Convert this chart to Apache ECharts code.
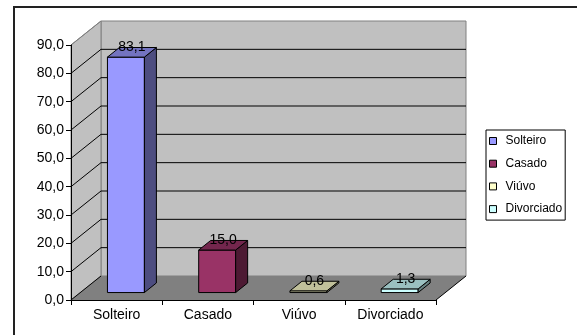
<!DOCTYPE html>
<html>
<head>
<meta charset="utf-8">
<script src="https://cdn.jsdelivr.net/npm/echarts@6/dist/echarts.min.js"></script>
<style>
  html, body { margin: 0; padding: 0; background: #ffffff; }
  #chart { width: 577px; height: 335px; }
</style>
</head>
<body>
<div id="chart"></div>
<script>
// Estado civil (%)
const categories = ['Solteiro', 'Casado', 'Viúvo', 'Divorciado'];
const values = [83.1, 15.0, 0.6, 1.3];
const yTicks = { min: 0, max: 90, step: 10 };

// Face colours of each box: front, top, side
const faceColors = [
  { front: '#9999ff', top: '#7373c0', side: '#4d4d80' },
  { front: '#993366', top: '#73264d', side: '#4d1a33' },
  { front: '#ffffcc', top: '#c0c09a', side: '#808066' },
  { front: '#ccffff', top: '#9ac0c0', side: '#668080' }
];

const FONT = '"Liberation Sans", Arial, sans-serif';
const AXIS_FONT = 14, LEGEND_FONT = 12;
// Perspective depth of the plot box (pixels)
const DX = 30, DY = -24;
// Depth placement of the boxes inside the plot (fraction of the depth)
const BAR_DEPTH_FRONT = 0.31, BAR_DEPTH = 0.40;
const BAR_WIDTH = 0.405;

const fmt = v => v.toFixed(1).replace('.', ',');

function renderWalls(params, api) {
  const band = api.size([1, 0])[0];
  const xL = api.coord([0, 0])[0] - band / 2;
  const xR = api.coord([categories.length - 1, 0])[0] + band / 2;
  const y0 = api.coord([0, yTicks.min])[1];
  const yT = api.coord([0, yTicks.max])[1];
  const kids = [];
  // back wall
  kids.push({ type: 'polygon', shape: { points: [[xL + DX, yT + DY], [xR + DX, yT + DY], [xR + DX, y0 + DY], [xL + DX, y0 + DY]] },
    style: { fill: '#c0c0c0', stroke: '#808080', lineWidth: 1 } });
  // side wall
  kids.push({ type: 'polygon', shape: { points: [[xL, y0], [xL, yT], [xL + DX, yT + DY], [xL + DX, y0 + DY]] },
    style: { fill: '#c0c0c0', stroke: '#808080', lineWidth: 1 } });
  // floor
  kids.push({ type: 'polygon', shape: { points: [[xL, y0], [xR, y0], [xR + DX, y0 + DY], [xL + DX, y0 + DY]] },
    style: { fill: '#808080' } });
  // gridlines on the back wall and the side wall
  for (let v = yTicks.min; v <= yTicks.max; v += yTicks.step) {
    const y = api.coord([0, v])[1];
    if (v > yTicks.min && v < yTicks.max) {
      kids.push({ type: 'line', shape: { x1: xL + DX, y1: y + DY, x2: xR + DX, y2: y + DY },
        style: { stroke: '#000', lineWidth: 1 } });
    }
    kids.push({ type: 'line', shape: { x1: xL, y1: y, x2: xL + DX, y2: y + DY },
      style: { stroke: v < yTicks.max ? '#000' : '#808080', lineWidth: 1 } });
  }
  // right edge of the floor
  kids.push({ type: 'line', shape: { x1: xR, y1: y0, x2: xR + DX, y2: y0 + DY },
    style: { stroke: '#000', lineWidth: 1 } });
  return { type: 'group', children: kids };
}

function makeBoxRenderer(idx) {
  return function (params, api) {
    const cat = api.value(0), val = api.value(1);
    const band = api.size([1, 0])[0];
    const c = api.coord([cat, 0]);
    const t = api.coord([cat, val]);
    const w = band * BAR_WIDTH;
    const ox = BAR_DEPTH_FRONT * DX, oy = BAR_DEPTH_FRONT * DY;
    const bx = BAR_DEPTH * DX, by = BAR_DEPTH * DY;
    const xl = c[0] - w / 2 + ox, xr = xl + w;
    const yb = c[1] + oy, yt = t[1] + oy;
    const col = faceColors[idx];
    const edge = { stroke: '#000', lineWidth: 1 };
    return {
      type: 'group',
      children: [
        { type: 'polygon', shape: { points: [[xl, yt], [xr, yt], [xr, yb], [xl, yb]] },
          style: Object.assign({ fill: col.front }, edge) },
        { type: 'polygon', shape: { points: [[xr, yt], [xr, yb], [xr + bx, yb + by], [xr + bx, yt + by]] },
          style: Object.assign({ fill: col.side }, edge) },
        { type: 'polygon', shape: { points: [[xl, yt], [xr, yt], [xr + bx, yt + by], [xl + bx, yt + by]] },
          style: Object.assign({ fill: col.top }, edge) },
        { type: 'text', style: { text: fmt(val), x: (xl + xr + bx) / 2, y: yt + by / 2 - 5,
          align: 'center', verticalAlign: 'middle', fill: '#000', fontSize: AXIS_FONT, fontFamily: FONT } }
      ]
    };
  };
}

const chart = echarts.init(document.getElementById('chart'), null, { renderer: 'canvas' });

const series = [{
  type: 'custom', name: '_walls', silent: true, z: 1,
  data: [[0, 0]], renderItem: renderWalls
}].concat(categories.map((name, i) => ({
  type: 'custom', name: name, z: 3, silent: true,
  itemStyle: { color: faceColors[i].front, borderColor: '#000', borderWidth: 1 },
  data: [[i, values[i]]],
  renderItem: makeBoxRenderer(i)
})));

chart.setOption({
  animation: false,
  backgroundColor: '#ffffff',
  textStyle: { fontFamily: FONT },
  grid: { left: 71, right: 141, top: 45, bottom: 35, containLabel: false },
  xAxis: {
    type: 'category', data: categories, z: 10,
    axisLine: { lineStyle: { color: '#000', width: 1 } },
    axisTick: { show: true, length: 5, lineStyle: { color: '#000' } },
    axisLabel: { color: '#000', fontSize: AXIS_FONT, fontFamily: FONT, margin: 8 },
    splitLine: { show: false }
  },
  yAxis: {
    type: 'value', min: yTicks.min, max: yTicks.max, interval: yTicks.step, z: 10,
    axisLine: { show: true, lineStyle: { color: '#000', width: 1 } },
    axisTick: { show: true, length: 5, lineStyle: { color: '#000' } },
    axisLabel: { color: '#000', fontSize: AXIS_FONT, fontFamily: FONT, margin: 7, formatter: v => fmt(v) },
    splitLine: { show: false }
  },
  legend: {
    data: categories, orient: 'vertical', left: 486, top: 130,
    icon: 'rect', itemWidth: 7, itemHeight: 7, itemGap: 10.7,
    padding: [5, 3, 5, 3],
    borderColor: '#000', borderWidth: 1, backgroundColor: '#fff',
    itemStyle: { borderColor: '#000', borderWidth: 1 },
    textStyle: { color: '#000', fontSize: LEGEND_FONT, fontFamily: FONT, lineHeight: 12, padding: [0, 0, 0, 4] },
    selectedMode: false
  },
  graphic: [{
    type: 'rect', silent: true, z: 100,
    shape: { x: 14, y: 7, width: 620, height: 400 },
    style: { fill: 'none', stroke: '#222', lineWidth: 2 }
  }],
  series: series
});
</script>
</body>
</html>
